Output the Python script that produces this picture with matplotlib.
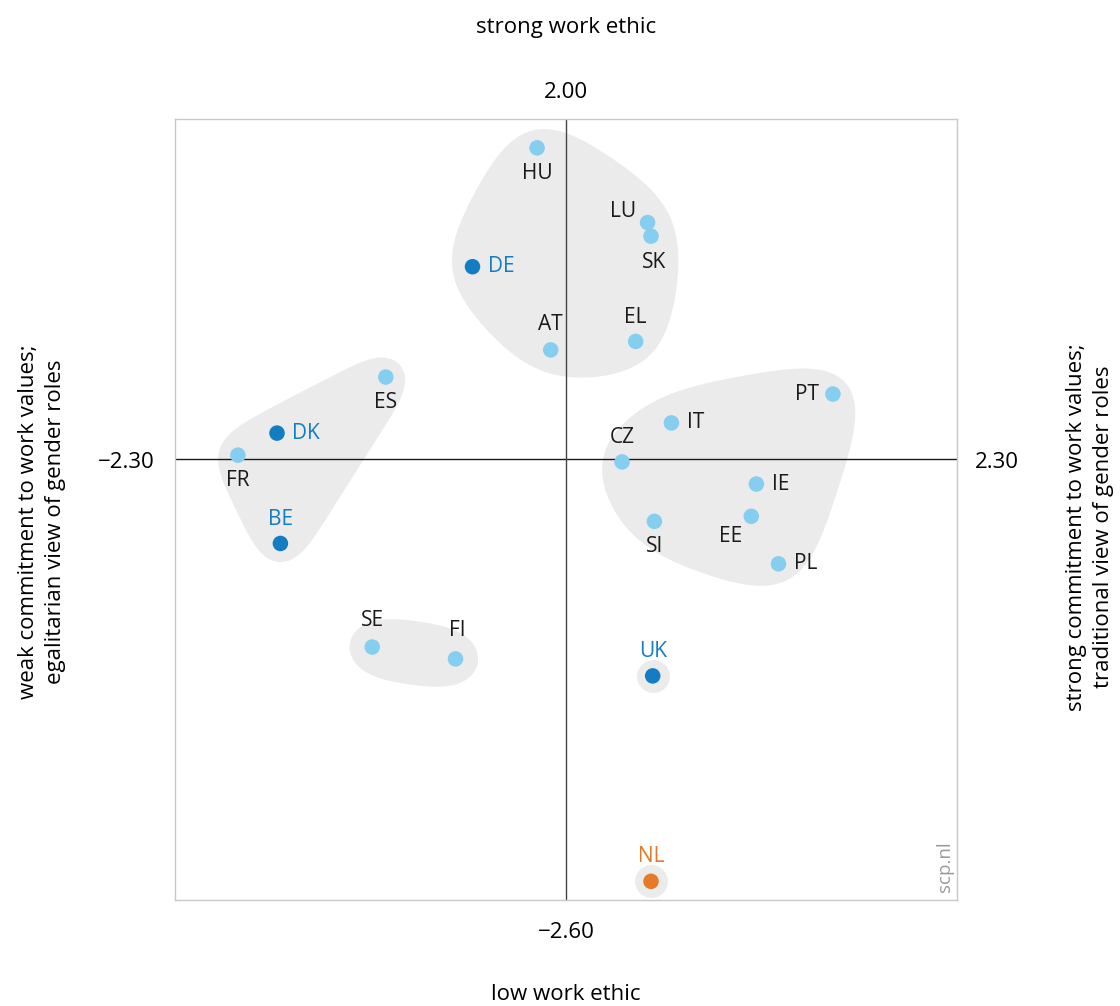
import matplotlib
matplotlib.use("Agg")
import matplotlib.pyplot as plt
import numpy as np

plt.rcParams["font.family"] = ["Open Sans", "DejaVu Sans"]

# country scores on the two dimensions
countries = ["HU", "LU", "SK", "DE", "AT", "EL", "ES", "PT", "IT", "DK", "FR",
             "CZ", "IE", "BE", "EE", "SI", "PL", "SE", "FI", "UK", "NL"]
x_vals = [-0.17, 0.48, 0.50, -0.55, -0.09, 0.41, -1.06, 1.57, 0.62, -1.70, -1.93,
          0.33, 1.12, -1.68, 1.09, 0.52, 1.25, -1.14, -0.65, 0.51, 0.50]
y_vals = [1.83, 1.39, 1.31, 1.13, 0.64, 0.69, 0.48, 0.38, 0.21, 0.15, 0.02,
          -0.02, -0.15, -0.50, -0.34, -0.37, -0.62, -1.11, -1.18, -1.28, -2.49]
# 0 = other country, 1 = highlighted neighbour, 2 = Netherlands
groups = [0, 0, 0, 1, 0, 0, 0, 0, 0, 1, 0, 0, 0, 1, 0, 0, 0, 0, 0, 1, 2]

clusters = [
    ["HU", "LU", "SK", "DE", "AT", "EL"],
    ["ES", "DK", "FR", "BE"],
    ["PT", "IT", "CZ", "IE", "EE", "SI", "PL"],
    ["SE", "FI"],
    ["UK"],
    ["NL"],
]

# label placement (offset in pixels, alignment)
label_pos = {
    "HU": (0, -26, "center"), "LU": (-25, 11, "center"), "SK": (3, -26, "center"),
    "DE": (15, 0, "left"), "AT": (0, 25, "center"), "EL": (0, 24, "center"),
    "ES": (0, -25, "center"), "PT": (-14, 0, "right"), "IT": (16, 0, "left"),
    "DK": (15, 0, "left"), "FR": (0, -25, "center"), "CZ": (0, 24, "center"),
    "IE": (16, 0, "left"), "BE": (0, 24, "center"), "EE": (-21, -20, "center"),
    "SI": (0, -25, "center"), "PL": (16, 0, "left"), "SE": (0, 27, "center"),
    "FI": (2, 28, "center"), "UK": (0, 24, "center"), "NL": (0, 25, "center"),
}

X_MIN, X_MAX = -2.30, 2.30
Y_MIN, Y_MAX = -2.60, 2.00

POINT_COLORS = ["#86CEF0", "#137DC2", "#E67A28"]
LABEL_COLORS = ["#1a1a1a", "#137DC2", "#E67A28"]
BLOB = "#EBEBEB"


def convex_hull(pts):
    pts = sorted(map(tuple, pts))

    def cross(o, a, b):
        return (a[0] - o[0]) * (b[1] - o[1]) - (a[1] - o[1]) * (b[0] - o[0])

    lower, upper = [], []
    for p in pts:
        while len(lower) >= 2 and cross(lower[-2], lower[-1], p) <= 0:
            lower.pop()
        lower.append(p)
    for p in reversed(pts):
        while len(upper) >= 2 and cross(upper[-2], upper[-1], p) <= 0:
            upper.pop()
        upper.append(p)
    return np.array(lower[:-1] + upper[:-1])


def blob_outline(pts, pad, sigma, n=600):
    """Hull of padded points, resampled and smoothed into a soft blob."""
    pts = np.asarray(pts, float)
    ang = np.linspace(0, 2 * np.pi, 72, endpoint=False)
    ring = np.column_stack([np.cos(ang), np.sin(ang)]) * pad
    hull = convex_hull(np.vstack([p + ring for p in pts]))
    closed = np.vstack([hull, hull[:1]])
    seg = np.linalg.norm(np.diff(closed, axis=0), axis=1)
    s = np.concatenate([[0], np.cumsum(seg)])
    t = np.linspace(0, s[-1], n, endpoint=False)
    res = np.column_stack([np.interp(t, s, closed[:, 0]), np.interp(t, s, closed[:, 1])])
    k = sigma / s[-1] * n
    offs = np.arange(-int(4 * k) - 1, int(4 * k) + 2)
    w = np.exp(-0.5 * (offs / k) ** 2)
    w /= w.sum()
    out = np.zeros_like(res)
    for o, wi in zip(offs, w):
        out += wi * np.roll(res, o, axis=0)
    return out


W, H = 1120, 1006
fig = plt.figure(figsize=(W / 100, H / 100), dpi=100)
ax = fig.add_axes([175 / W, 1 - 900 / H, (957 - 175) / W, (900 - 119) / H])
ax.set_xlim(X_MIN, X_MAX)
ax.set_ylim(Y_MIN, Y_MAX)
ax.set_xticks([])
ax.set_yticks([])
for sp in ax.spines.values():
    sp.set_color("#c8c8c8")
    sp.set_linewidth(1)

ax.axhline(0, color="#1a1a1a", lw=1, zorder=1)
ax.axvline(0, color="#444444", lw=1, zorder=1)

lookup = {c: (x, y) for c, x, y in zip(countries, x_vals, y_vals)}
blob_style = [(0.20, 0.24), (0.15, 0.12), (0.20, 0.24), (0.19, 0.16)]
for members, (pad, sigma) in zip(clusters[:4], blob_style):
    outline = blob_outline([lookup[c] for c in members], pad, sigma)
    ax.fill(outline[:, 0], outline[:, 1], color=BLOB, lw=0, zorder=0.5)

single = [c for members in clusters if len(members) == 1 for c in members]
ax.scatter([lookup[c][0] for c in single], [lookup[c][1] for c in single],
           s=560, color=BLOB, lw=0, zorder=0.5)

ax.scatter(x_vals, y_vals, s=125, c=[POINT_COLORS[g] for g in groups],
           lw=0, zorder=3)

for c, x, y, g in zip(countries, x_vals, y_vals, groups):
    dx, dy, ha = label_pos[c]
    ax.annotate(c, (x, y), xytext=(dx * 0.72, dy * 0.72), textcoords="offset points",
                ha=ha, va="center", fontsize=15, color=LABEL_COLORS[g], zorder=4)

ax.text(0.985, 0.01, "scp.nl", transform=ax.transAxes, rotation=90,
        ha="center", va="bottom", fontsize=13.5, color="#9a9a9a")

# axis end values
fs = 16
fig.text(566 / W, 1 - 92 / H, "2.00", ha="center", va="center", fontsize=fs)
fig.text(566 / W, 1 - 932 / H, "\u22122.60", ha="center", va="center", fontsize=fs)
fig.text(155 / W, 1 - 462 / H, "\u22122.30", ha="right", va="center", fontsize=fs)
fig.text(975 / W, 1 - 462 / H, "2.30", ha="left", va="center", fontsize=fs)

# dimension titles
fig.text(566 / W, 1 - 27 / H, "strong work ethic", ha="center", va="center", fontsize=fs)
fig.text(566 / W, 1 - 995 / H, "low work ethic", ha="center", va="center", fontsize=fs)
fig.text(42 / W, 1 - 522 / H,
         "weak commitment to work values;\negalitarian view of gender roles",
         rotation=90, ha="center", va="center", fontsize=fs, linespacing=1.35)
fig.text(1090 / W, 1 - 527 / H,
         "strong commitment to work values;\ntraditional view of gender roles",
         rotation=90, ha="center", va="center", fontsize=fs, linespacing=1.35)

fig.savefig("out.png", dpi=100)
